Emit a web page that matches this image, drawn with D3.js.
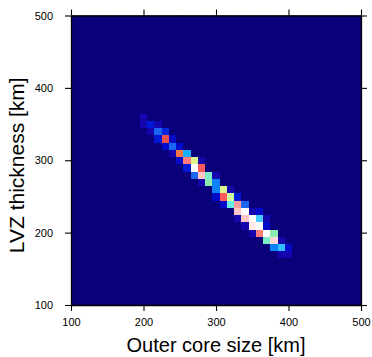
<!DOCTYPE html>
<html>
<head>
<meta charset="utf-8">
<script src="https://cdn.jsdelivr.net/npm/d3@7"></script>
<style>
  body { margin: 0; background: #fff; }
  svg { display: block; font-family: "Liberation Sans", Arial, Helvetica, sans-serif; }
</style>
</head>
<body>
<svg id="chart" width="372" height="357"></svg>
<script>
// axis ranges / ticks (km)
const xDomain = [100, 500];
const yDomain = [100, 500];
const xTicks = [100, 200, 300, 400, 500];
const yTicks = [100, 200, 300, 400, 500];
const binStep = 10;

// non empty histogram bins, one row per LVZ thickness
// rowStart = outer core size of the first bin in that row
const rowLvz   = [360, 350, 340, 330, 320, 310, 300, 290, 280, 270, 260, 250, 240, 230, 220, 210, 200, 190, 180, 170];
const rowStart = [200, 200, 210, 220, 230, 240, 250, 260, 270, 280, 300, 300, 310, 330, 330, 340, 350, 370, 380, 390];
const rowCounts = [
    [2],
    [2, 4, 2],
    [2, 6, 5],
    [4, 23, 3],
    [3, 6, 3],
    [2, 22, 8],
    [3, 25, 17, 2],
    [4, 31, 24],
    [6, 28, 13, 2],
    [2, 14, 7],
    [7, 17, 2],
    [3, 24, 16, 4],
    [3, 12, 26, 6],
    [28, 31, 2, 3],
    [2, 28, 31, 10, 2],
    [2, 30, 31, 3],
    [2, 25, 31, 14],
    [13, 29, 2],
    [7, 9, 3],
    [2, 2]
];

// GMT haxby palette
const haxby = ['#0a0079', '#280096', '#1405af', '#000ac8', '#0019d4', '#0028e0', '#1a66f0', '#0d81f8',
    '#19afff', '#32beff', '#44caff', '#61e1f0', '#6aebe1', '#7cebc8', '#8aecae', '#acf5a8',
    '#cdffa2', '#dff58d', '#f0ec79', '#f7d768', '#ffbd57', '#ffa045', '#f4754b', '#ee504e',
    '#ff5a5a', '#ff7c7c', '#ff9e9e', '#f5b3ae', '#ffc4c4', '#ffd7d7', '#ffebeb', '#ffffff'];

const svg = d3.select('#chart');
const margin = {left: 71, top: 15.5};
const width = 290;
const height = 289.5;

const x = d3.scaleLinear().domain(xDomain).range([0, width]);
const y = d3.scaleLinear().domain(yDomain).range([height, 0]);
const color = d3.scaleLinear()
    .domain(d3.range(haxby.length))
    .range(haxby)
    .clamp(true);

// full grid, empty bins = 0
const grid = [];
for (let yv = yDomain[0]; yv <= yDomain[1]; yv += binStep) {
    for (let xv = xDomain[0]; xv <= xDomain[1]; xv += binStep) {
        grid.push({x: xv, y: yv, count: 0});
    }
}
const nx = (xDomain[1] - xDomain[0]) / binStep + 1;
rowLvz.forEach((lvz, r) => {
    rowCounts[r].forEach((c, i) => {
        const xi = (rowStart[r] + i * binStep - xDomain[0]) / binStep;
        const yi = (lvz - yDomain[0]) / binStep;
        grid[yi * nx + xi].count = c;
    });
});

svg.append('clipPath')
    .attr('id', 'plotclip')
    .append('rect')
    .attr('width', width)
    .attr('height', height);

const chart = svg.append('g')
    .attr('transform', `translate(${margin.left},${margin.top})`);

chart.append('g')
    .attr('clip-path', 'url(#plotclip)')
    .attr('shape-rendering', 'crispEdges')
    .selectAll('rect')
    .data(grid)
    .enter().append('rect')
    .attr('x', d => x(d.x - binStep / 2))
    .attr('y', d => y(d.y + binStep / 2))
    .attr('width', x(xDomain[0] + binStep) - x(xDomain[0]) + 0.5)
    .attr('height', y(yDomain[0]) - y(yDomain[0] + binStep) + 0.5)
    .attr('fill', d => color(d.count));

/***
 * axes (ticks outside on all four sides, labels W and S)
 */
const tickLen = 6;

function styleAxis(g) {
    g.select('.domain').attr('stroke', '#000').attr('stroke-width', 1.3);
    g.selectAll('.tick line').attr('stroke', '#000').attr('stroke-width', 1.1);
    g.selectAll('.tick text').attr('fill', '#000').attr('font-size', '11px')
        .attr('font-family', '"Liberation Sans", Arial, Helvetica, sans-serif');
}

chart.append('g')
    .attr('transform', `translate(0,${height})`)
    .call(d3.axisBottom(x).tickValues(xTicks).tickSize(tickLen).tickSizeOuter(0).tickPadding(7))
    .call(styleAxis);

chart.append('g')
    .call(d3.axisLeft(y).tickValues(yTicks).tickSize(tickLen).tickSizeOuter(0).tickPadding(12))
    .call(styleAxis);

chart.append('g')
    .call(d3.axisTop(x).tickValues(xTicks).tickSize(tickLen).tickSizeOuter(0).tickFormat(''))
    .call(styleAxis);

chart.append('g')
    .attr('transform', `translate(${width},0)`)
    .call(d3.axisRight(y).tickValues(yTicks).tickSize(tickLen).tickSizeOuter(0).tickFormat(''))
    .call(styleAxis);

/***
 * axis titles
 */
svg.append('text')
    .attr('x', margin.left + width / 2)
    .attr('y', 352)
    .attr('text-anchor', 'middle')
    .attr('font-size', '20px')
    .attr('fill', '#000')
    .text('Outer core size [km]');

svg.append('text')
    .attr('transform', `translate(24,${margin.top + height / 2 + 5}) rotate(-90)`)
    .attr('text-anchor', 'middle')
    .attr('font-size', '21px')
    .attr('fill', '#000')
    .text('LVZ thickness [km]');
</script>
</body>
</html>
